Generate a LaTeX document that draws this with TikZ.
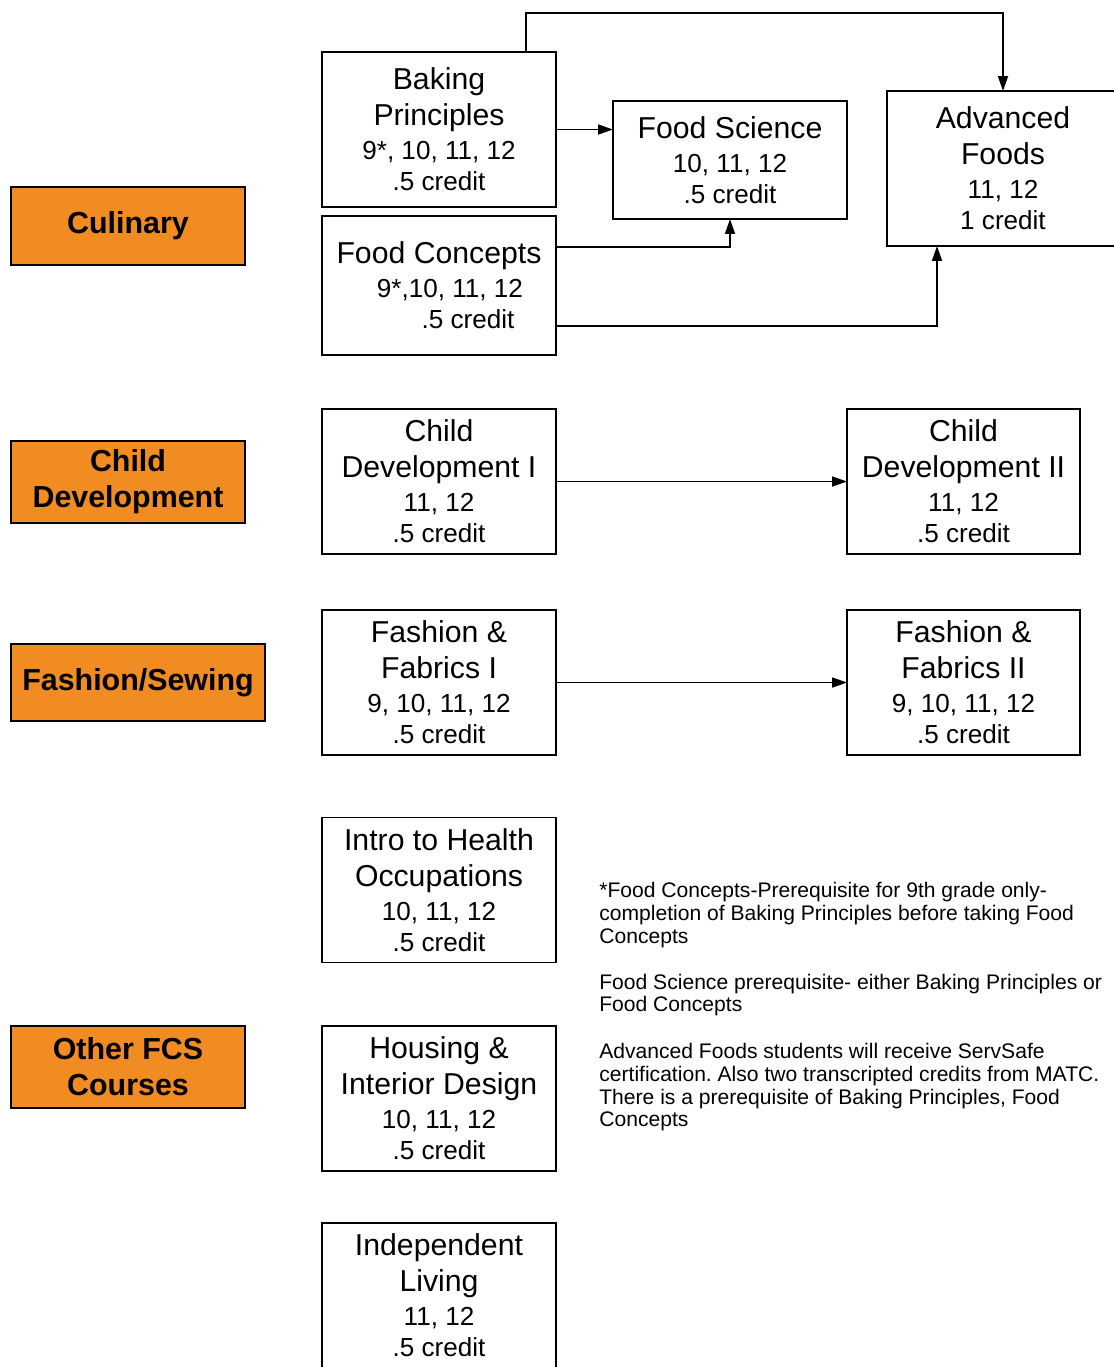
\documentclass[tikz,border=0pt]{standalone}
\usepackage{fontspec}
\setmainfont{Liberation Sans}
\usetikzlibrary{arrows.meta}
\definecolor{fcsorange}{RGB}{240,140,34}
\newcommand{\grd}{\fontsize{14.85}{17.6}\selectfont}
\frenchspacing

\begin{document}
\begin{tikzpicture}[x=0.02cm,y=-0.02cm,
        course/.style={draw,line width=1.1pt,minimum width=4.68cm,minimum height=2.9cm,inner sep=0pt,outer sep=0pt,align=center,font=\fontsize{17.2}{20.4}\selectfont},
        track/.style={draw,line width=1.1pt,fill=fcsorange,minimum width=4.68cm,inner sep=0pt,outer sep=0pt,align=center,font=\bfseries\fontsize{17.3}{20.6}\selectfont},
        link/.style={line width=1pt,-{Triangle[length=0.3cm,width=0.2cm]}}]
    \useasboundingbox (0,0) rectangle (1114,1367);
        % tracks
        \node[track,minimum height=1.56cm] (culi) at (128,226) {Culinary};
        \node[track,minimum height=1.64cm] (cdlab) at (128,482) {Child\\Development};
        \node[track,minimum width=5.08cm,minimum height=1.54cm] (fslab) at (138,682.5) {Fashion/Sewing};
        \node[track,minimum height=1.64cm] (oflab) at (128,1067) {Other FCS\\Courses};
        % culinary courses
        \node[course,minimum height=3.1cm] (bake) at (439,129.5) {Baking\\Principles\\[-1pt]\grd 9*, 10, 11, 12\\[-2.8pt]\grd .5 credit};
        \node[course,minimum height=2.78cm] (fcon) at (439,285.5) {Food Concepts\\[-1pt]\grd\hspace*{0.44cm}9*,10, 11, 12\\[-2.8pt]\grd\hspace*{1.16cm}.5 credit};
        \node[course,minimum height=2.36cm] (fsci) at (730,160) {Food Science\\[-1pt]\grd 10, 11, 12\\[-2.8pt]\grd .5 credit};
        \node[course,minimum width=4.64cm,minimum height=3.1cm] (adv) at (1003,168.5) {Advanced\\Foods\\[-1pt]\grd 11, 12\\[-2.8pt]\grd 1 credit};
        % other courses
        \node[course] (cd1) at (439,481.5) {Child\\Development I\\[-1pt]\grd 11, 12\\[-2.8pt]\grd .5 credit};
        \node[course,minimum width=4.66cm] (cd2) at (963.5,481.5) {Child\\Development II\\[-1pt]\grd 11, 12\\[-2.8pt]\grd .5 credit};
        \node[course] (ff1) at (439,682.5) {Fashion \&\\Fabrics I\\[-1pt]\grd 9, 10, 11, 12\\[-2.8pt]\grd .5 credit};
        \node[course,minimum width=4.66cm] (ff2) at (963.5,682.5) {Fashion \&\\Fabrics II\\[-1pt]\grd 9, 10, 11, 12\\[-2.8pt]\grd .5 credit};
        \node[course] (hlth) at (439,890) {Intro to Health\\Occupations\\[-1pt]\grd 10, 11, 12\\[-2.8pt]\grd .5 credit};
        \node[course] (hous) at (439,1098.5) {Housing \&\\Interior Design\\[-1pt]\grd 10, 11, 12\\[-2.8pt]\grd .5 credit};
        \node[course] (indl) at (439,1295.5) {Independent\\Living\\[-1pt]\grd 11, 12\\[-2.8pt]\grd .5 credit};
        % notes
        \node[anchor=north west,inner sep=0pt,align=left,font=\fontsize{12}{13}\selectfont] (notes) at (599,882) {*Food Concepts-Prerequisite for 9th grade only-\\completion of Baking Principles before taking Food\\Concepts\\[13pt]Food Science prerequisite- either Baking Principles or\\Food Concepts\\[13.5pt]Advanced Foods students will receive ServSafe\\certification. Also two transcripted credits from MATC.\\There is a prerequisite of Baking Principles, Food\\Concepts};
        % prerequisites
        \draw[link] ([xshift=-0.6cm]bake.north east) -- ++(0,-39) -| (adv.north);
        \draw[link] (bake.east) -- (bake.east -| fsci.west);
        \draw[link] ([yshift=0.77cm]fcon.east) -| (fsci.south);
        \draw[link] ([yshift=-0.81cm]fcon.east) -| ([xshift=-1.32cm]adv.south);
        \draw[link] (cd1.east) -- (cd2.west);
        \draw[link] (ff1.east) -- (ff2.west);
\end{tikzpicture}
\end{document}
